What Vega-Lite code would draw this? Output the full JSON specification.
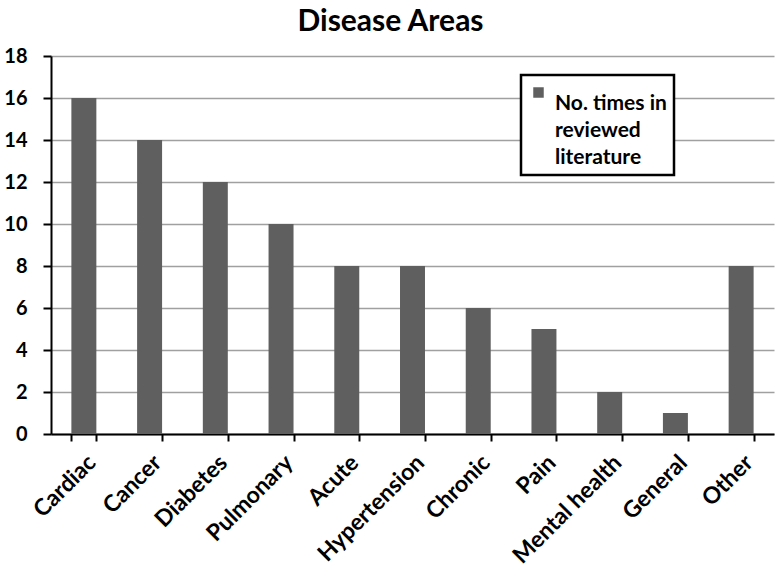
{
  "$schema": "https://vega.github.io/schema/vega-lite/v6.json",
  "width": 723,
  "height": 378,
  "autosize": {"type": "none"},
  "padding": {"left": 51, "top": 56, "right": 6, "bottom": 139},
  "background": "white",
  "title": {
    "text": "Disease Areas",
    "font": "Lato",
    "fontSize": 30,
    "fontWeight": "bold",
    "color": "black",
    "anchor": "middle",
    "dx": -22,
    "offset": 9
  },
  "data": {
    "values": [
      {"area": "Cardiac", "count": 16, "series": "No times in|reviewed|literature"},
      {"area": "Cancer", "count": 14, "series": "No times in|reviewed|literature"},
      {"area": "Diabetes", "count": 12, "series": "No times in|reviewed|literature"},
      {"area": "Pulmonary", "count": 10, "series": "No times in|reviewed|literature"},
      {"area": "Acute", "count": 8, "series": "No times in|reviewed|literature"},
      {"area": "Hypertension", "count": 8, "series": "No times in|reviewed|literature"},
      {"area": "Chronic", "count": 6, "series": "No times in|reviewed|literature"},
      {"area": "Pain", "count": 5, "series": "No times in|reviewed|literature"},
      {"area": "Mental health", "count": 2, "series": "No times in|reviewed|literature"},
      {"area": "General", "count": 1, "series": "No times in|reviewed|literature"},
      {"area": "Other", "count": 8, "series": "No times in|reviewed|literature"}
    ]
  },
  "mark": {"type": "bar", "color": "#5f5f5f"},
  "encoding": {
    "x": {
      "field": "area",
      "type": "nominal",
      "sort": null,
      "title": null,
      "scale": {"paddingInner": 0.62, "paddingOuter": 0.31},
      "axis": {
        "labelAngle": -45,
        "labelFont": "Lato",
        "labelFontSize": 23,
        "labelFontWeight": "bold",
        "labelColor": "black",
        "labelPadding": 10,
        "tickBand": "extent",
        "tickColor": "black",
        "tickSize": 7,
        "tickWidth": 2,
        "domainColor": "black",
        "domainWidth": 2,
        "labelLimit": 250
      }
    },
    "y": {
      "field": "count",
      "type": "quantitative",
      "title": null,
      "scale": {"domain": [0, 18]},
      "axis": {
        "values": [0, 2, 4, 6, 8, 10, 12, 14, 16, 18],
        "labelFont": "Lato",
        "labelFontSize": 20,
        "labelFontWeight": "bold",
        "labelColor": "black",
        "labelPadding": 16,
        "tickColor": "black",
        "tickSize": 8,
        "tickWidth": 2,
        "domainColor": "black",
        "domainWidth": 2,
        "grid": true,
        "gridColor": "#a0a0a0",
        "gridWidth": 1.5
      }
    },
    "color": {
      "field": "series",
      "type": "nominal",
      "scale": {"range": ["#5f5f5f"]},
      "legend": {
        "title": null,
        "orient": "none",
        "legendX": 470,
        "legendY": 19,
        "labelExpr": "split(replace(datum.label, 'No times', 'No. times'), '|')",
        "encode": {
          "labels": {"update": {"lineHeight": {"value": 27}}}
        }
      }
    }
  },
  "config": {
    "view": {"stroke": null},
    "legend": {
      "strokeColor": "black",
      "strokeWidth": 2.5,
      "fillColor": "white",
      "padding": 7,
      "symbolType": "square",
      "symbolSize": 110,
      "symbolStrokeWidth": 0,
      "labelFont": "Lato",
      "labelFontSize": 21,
      "labelFontWeight": "bold",
      "labelColor": "black",
      "labelLimit": 300,
      "labelBaseline": "top",
      "labelOffset": 6
    }
  }
}
